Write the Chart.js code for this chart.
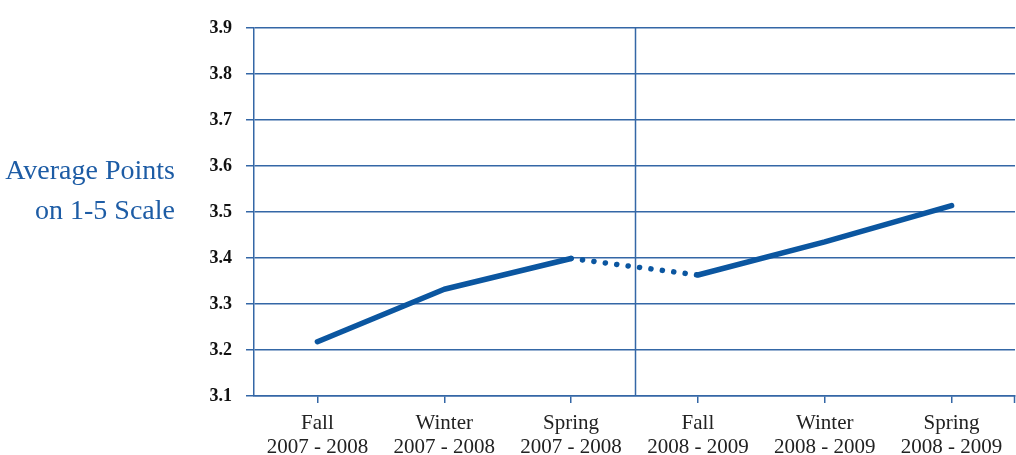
<!DOCTYPE html>
<html>
<head>
<meta charset="utf-8">
<script src="https://cdn.jsdelivr.net/npm/chart.js@4/dist/chart.umd.min.js"></script>
<style>
  html, body { margin: 0; padding: 0; background: #fff; }
  #wrap { position: relative; width: 1016px; height: 455px; }
  #ytitle { position: absolute; right: 841px; top: 150px; text-align: right;
    font-family: "Liberation Serif", "DejaVu Serif", serif; font-size: 28px; line-height: 40px;
    color: #1d5ca5; white-space: nowrap; }
  canvas { position: absolute; left: 0; top: 0; }
</style>
</head>
<body>
<div id="wrap">
  <canvas id="c" width="1016" height="455"></canvas>
  <div id="ytitle">Average Points<br>on 1-5 Scale</div>
</div>
<script>
const categories = [
  ["Fall", "2007 - 2008"],
  ["Winter", "2007 - 2008"],
  ["Spring", "2007 - 2008"],
  ["Fall", "2008 - 2009"],
  ["Winter", "2008 - 2009"],
  ["Spring", "2008 - 2009"]
];
const averagePoints = [3.218, 3.332, 3.399, 3.363, 3.435, 3.514];
const dottedAfterIndex = 2;
const yMin = 3.1, yMax = 3.9, yStep = 0.1;

const gridBlue = '#3467a6';
const lineBlue = '#0b56a0';

const extras = {
  id: 'extras',
  afterDraw(chart) {
    const ctx = chart.ctx;
    const x = chart.scales.x;
    const area = chart.chartArea;
    ctx.save();
    ctx.strokeStyle = gridBlue;
    ctx.lineWidth = 1.5;
    const mid = (x.getPixelForValue(dottedAfterIndex) + x.getPixelForValue(dottedAfterIndex + 1)) / 2;
    ctx.beginPath();
    ctx.moveTo(Math.round(mid) + 0.5, area.top);
    ctx.lineTo(Math.round(mid) + 0.5, area.bottom);
    ctx.stroke();
    ctx.beginPath();
    ctx.moveTo(area.right - 0.5, area.bottom);
    ctx.lineTo(area.right - 0.5, area.bottom + 7);
    ctx.stroke();
    ctx.restore();
  }
};

new Chart(document.getElementById('c'), {
  type: 'line',
  data: {
    labels: categories,
    datasets: [{
      data: averagePoints,
      borderColor: lineBlue,
      borderWidth: 5.5,
      borderCapStyle: 'round',
      borderJoinStyle: 'round',
      pointRadius: 0,
      tension: 0,
      segment: {
        borderDash: c => c.p0DataIndex === dottedAfterIndex ? [0.1, 11.4] : undefined
      }
    }]
  },
  options: {
    responsive: false,
    animation: false,
    layout: { padding: { top: 28, right: 1, left: 0, bottom: 0 } },
    plugins: { legend: { display: false }, tooltip: { enabled: false } },
    scales: {
      x: {
        offset: true,
        grid: { offset: false, drawOnChartArea: false, color: gridBlue, lineWidth: 1.5, tickLength: 7 },
        border: { color: gridBlue, width: 1.5 },
        ticks: {
          color: '#222',
          font: { family: '"Liberation Serif", "DejaVu Serif", serif', size: 21, lineHeight: 1.15 },
          padding: 8,
          maxRotation: 0, autoSkip: false
        },
        afterFit(s) { s.height = 59; }
      },
      y: {
        min: yMin, max: yMax,
        grid: { color: gridBlue, lineWidth: 1.5, tickLength: 8 },
        border: { color: gridBlue, width: 1.5 },
        ticks: {
          stepSize: yStep,
          color: '#111',
          font: { family: '"Liberation Serif", "DejaVu Serif", serif', size: 18, weight: 'bold' },
          padding: 14,
          callback: v => Number(v).toFixed(1)
        },
        afterFit(s) { s.width = 254; }
      }
    }
  },
  plugins: [extras]
});
</script>
</body>
</html>
